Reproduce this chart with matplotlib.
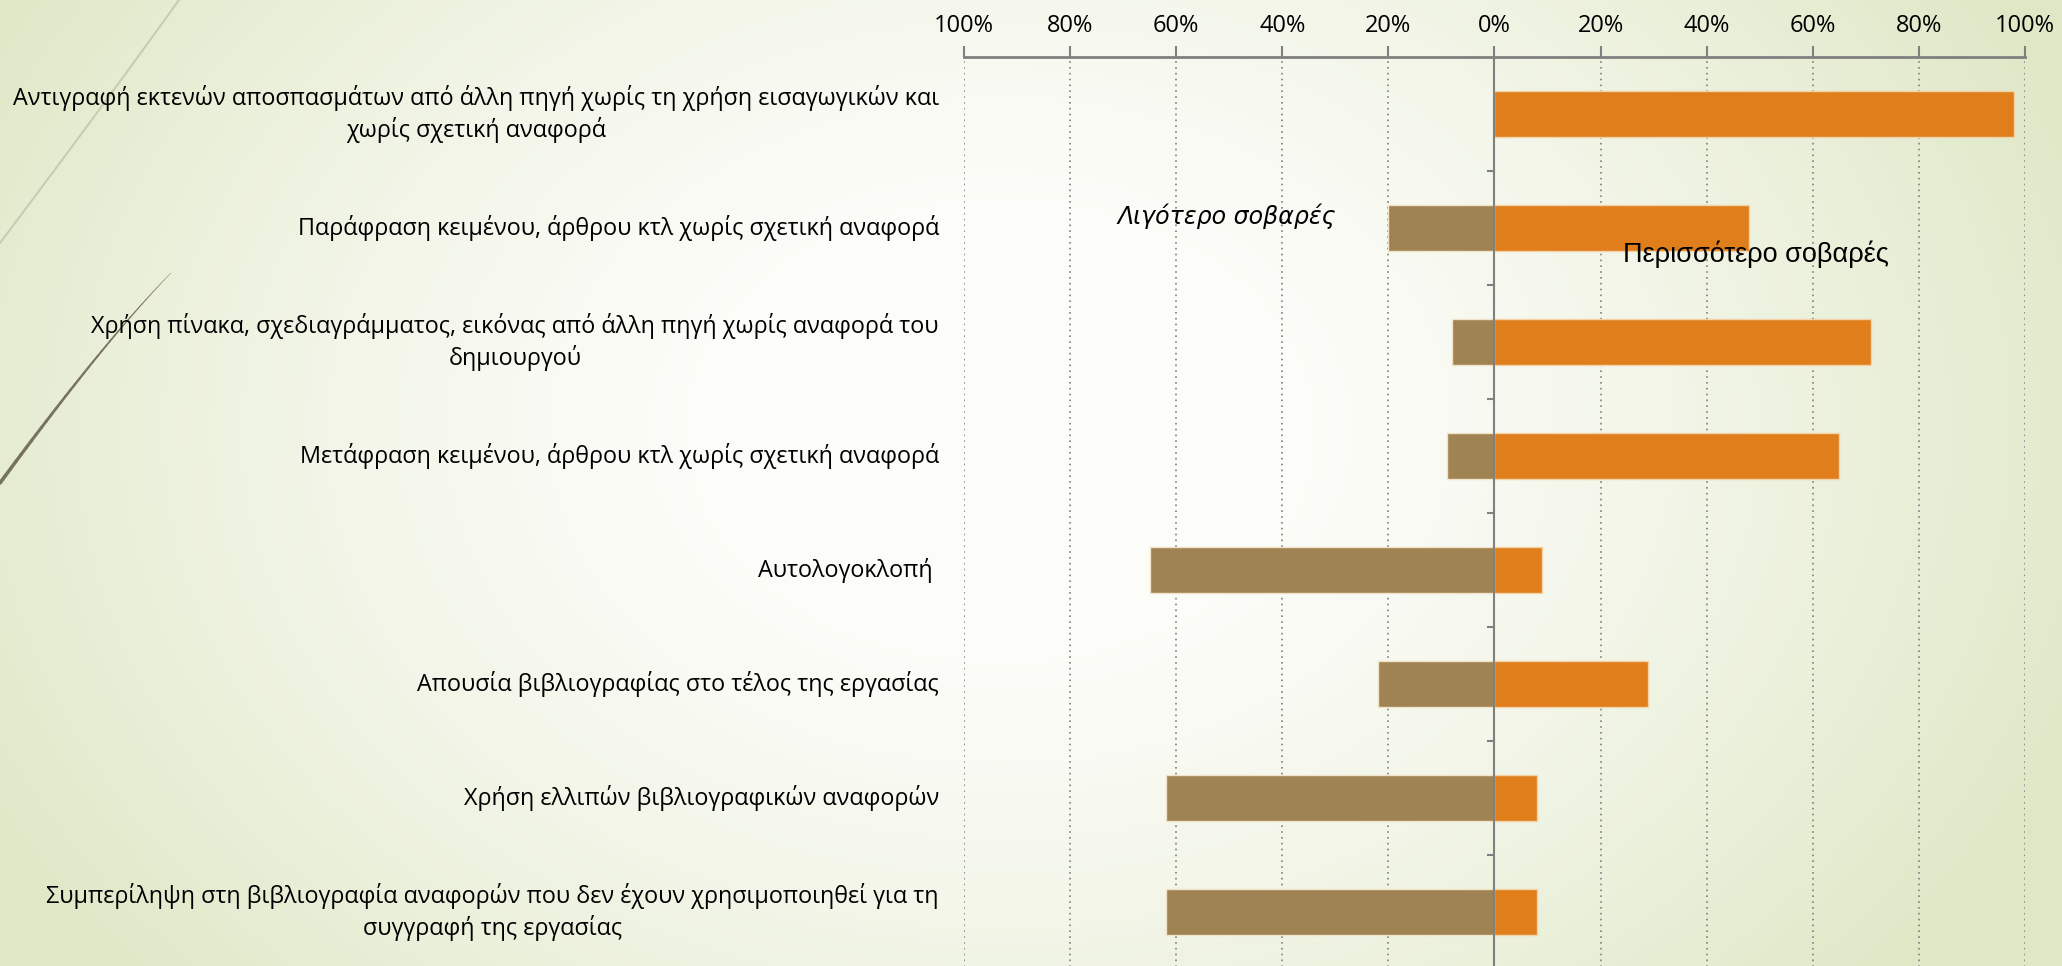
import numpy as np
import matplotlib
matplotlib.use('Agg')
from matplotlib import pyplot as plt
from matplotlib.ticker import FuncFormatter
from matplotlib.collections import LineCollection

plt.rcParams['font.family'] = ['Open Sans', 'DejaVu Sans']

# data (percent)
categories = [
    'Αντιγραφή εκτενών αποσπασμάτων από άλλη πηγή χωρίς τη χρήση εισαγωγικών και\nχωρίς σχετική αναφορά',
    'Παράφραση κειμένου, άρθρου κτλ χωρίς σχετική αναφορά',
    'Χρήση πίνακα, σχεδιαγράμματος, εικόνας από άλλη πηγή χωρίς αναφορά του\nδημιουργού',
    'Μετάφραση κειμένου, άρθρου κτλ χωρίς σχετική αναφορά',
    'Αυτολογοκλοπή ',
    'Απουσία βιβλιογραφίας στο τέλος της εργασίας',
    'Χρήση ελλιπών βιβλιογραφικών αναφορών',
    'Συμπερίληψη στη βιβλιογραφία αναφορών που δεν έχουν χρησιμοποιηθεί για τη\nσυγγραφή της εργασίας',
]
less_serious = [0, 20, 8, 9, 65, 22, 62, 62]
more_serious = [98, 48, 71, 65, 9, 29, 8, 8]
x_ticks = [-100, -80, -60, -40, -20, 0, 20, 40, 60, 80, 100]

W, H = 2062, 966
fig = plt.figure(figsize=(W / 100, H / 100), dpi=100)

# background gradient (slide style)
bg = fig.add_axes([0, 0, 1, 1], zorder=-10)
yy, xx = np.mgrid[0:H, 0:W]
d = np.sqrt(((xx - 1000) / 1150.0) ** 2 + ((yy - 430) / 850.0) ** 2)
t = np.clip((d - 0.25) / 0.75, 0, 1) ** 1.3
white = np.array([0.99, 0.99, 0.975])
green = np.array([0.875, 0.91, 0.78])
img = white[None, None, :] * (1 - t[..., None]) + green[None, None, :] * t[..., None]
bg.imshow(img, extent=[0, 1, 0, 1], aspect='auto', origin='upper')
bg.axis('off')


def bezier(p0, p1, p2, n=40):
    s = np.linspace(0, 1, n)[:, None]
    return (1 - s) ** 2 * np.array(p0) + 2 * (1 - s) * s * np.array(p1) + s ** 2 * np.array(p2)


# decorative curves on the left (pixel coords)
c1 = bezier((179, 0), (100, 110), (0, 243))
c2 = bezier((171, 273), (105, 340), (0, 483))
bg.plot(c1[:, 0] / W, 1 - c1[:, 1] / H, color='#c9ccb4', lw=1.5)
segs = [[(c2[i, 0] / W, 1 - c2[i, 1] / H), (c2[i + 1, 0] / W, 1 - c2[i + 1, 1] / H)] for i in range(len(c2) - 1)]
bg.add_collection(LineCollection(segs, colors='#777160', linewidths=np.linspace(0.3, 2.6, len(segs)),
                                 capstyle='round'))
bg.set_xlim(0, 1)
bg.set_ylim(0, 1)

ax = fig.add_axes([0.4675, -0.0031, 0.5145, 0.944])
ax.set_facecolor('none')

y = np.arange(len(categories))
ax.barh(y, [-v for v in less_serious], height=0.4, color='#A08352', edgecolor='#efe3c8', linewidth=1, zorder=3)
ax.barh(y, more_serious, height=0.4, color='#DF7E1B', edgecolor='#f3d2a8', linewidth=1, zorder=3)

ax.set_xlim(-100, 100)
ax.set_ylim(len(categories) - 0.5, -0.5)

ax.xaxis.tick_top()
ax.set_xticks(x_ticks)
ax.xaxis.set_major_formatter(FuncFormatter(lambda v, p: '%d%%' % abs(v)))
ax.tick_params(axis='x', length=8, width=1.5, color='#808080', pad=6, labelsize=17)
ax.grid(axis='x', linestyle=(0, (1, 2.5)), color='#808080', linewidth=1.2, zorder=0)

for s in ['right', 'bottom']:
    ax.spines[s].set_visible(False)
ax.spines['top'].set_color('#808080')
ax.spines['top'].set_linewidth(2)
ax.spines['left'].set_position(('data', 0))
ax.spines['left'].set_color('#808080')
ax.spines['left'].set_linewidth(1.5)
ax.spines['left'].set_zorder(4)

ax.set_yticks(y)
ax.set_yticklabels([])
ax.set_yticks(y[:-1] + 0.5, minor=True)
ax.tick_params(axis='y', which='major', length=0)
ax.tick_params(axis='y', which='minor', length=5, width=1.5, color='#808080')

for i, lab in enumerate(categories):
    ax.annotate(lab, xy=(0, i), xycoords=('axes fraction', 'data'), xytext=(-18, 0),
                textcoords='offset points', ha='right', va='center', multialignment='center',
                fontsize=16.8, linespacing=1.3, color='black')

ax.text(-71, 0.9, 'Λιγότερο σοβαρές', ha='left', va='center', fontsize=17, fontstyle='italic',
        family=['DejaVu Sans'], zorder=5)
ax.text(24.3, 1.23, 'Περισσότερο σοβαρές', ha='left', va='center', fontsize=19.5,
        family=['Liberation Sans', 'DejaVu Sans'], zorder=5)

fig.savefig('out.png', dpi=100)
